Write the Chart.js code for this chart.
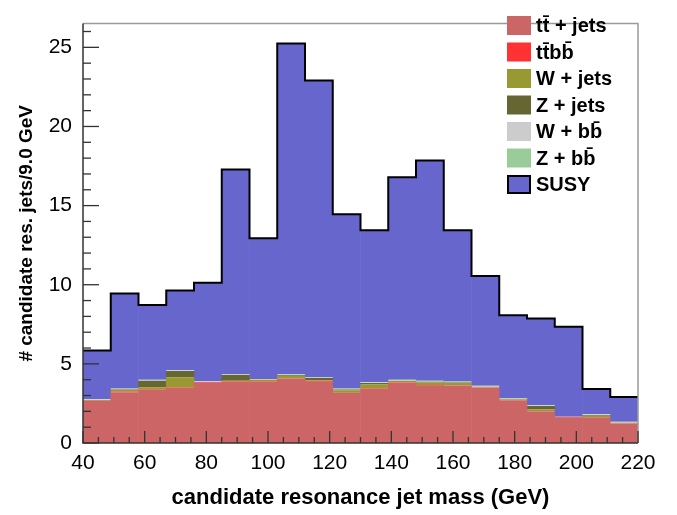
<!DOCTYPE html>
<html>
<head>
<meta charset="utf-8">
<script src="https://cdn.jsdelivr.net/npm/chart.js@4.4.1/dist/chart.umd.min.js"></script>
<style>
  html, body { margin: 0; padding: 0; background: #fff; }
  #caixa { width: 677px; height: 515px; }
</style>
</head>
<body>
<div id="caixa"><canvas id="histograma" width="677" height="515"></canvas></div>
<script>
// centros dos bins (9 GeV cada, de 40 a 220 GeV)
const centrosBins = [44.5, 53.5, 62.5, 71.5, 80.5, 89.5, 98.5, 107.5, 116.5, 125.5,
                     134.5, 143.5, 152.5, 161.5, 170.5, 179.5, 188.5, 197.5, 206.5, 215.5];
const bordasBins = [40, 49, 58, 67, 76, 85, 94, 103, 112, 121, 130,
                    139, 148, 157, 166, 175, 184, 193, 202, 211, 220];
const ticksY = [0, 5, 10, 15, 20, 25];

// valores (empilhados de baixo para cima)
const ttJets = [2.65, 3.20, 3.35, 3.47, 3.81, 3.86, 3.86, 4.06, 3.86, 3.16,
                3.41, 3.81, 3.61, 3.61, 3.51, 2.70, 1.99, 1.58, 1.62, 1.22];
const ttbb   = [0.02, 0.05, 0.03, 0.03, 0.05, 0.03, 0.03, 0.02, 0.04, 0.02,
                0.03, 0.03, 0.06, 0.03, 0.02, 0.02, 0.03, 0.04, 0.02, 0.02];
const wJets  = [0.05, 0.10, 0.15, 0.65, 0.00, 0.05, 0.10, 0.15, 0.05, 0.15,
                0.25, 0.10, 0.15, 0.15, 0.02, 0.05, 0.10, 0.00, 0.08, 0.04];
const zJets  = [0.00, 0.03, 0.40, 0.40, 0.00, 0.35, 0.00, 0.05, 0.15, 0.05,
                0.10, 0.00, 0.05, 0.03, 0.00, 0.00, 0.22, 0.00, 0.05, 0.00];
const wbb    = [0.03, 0.03, 0.03, 0.03, 0.02, 0.03, 0.03, 0.03, 0.03, 0.03,
                0.03, 0.03, 0.03, 0.03, 0.03, 0.03, 0.03, 0.02, 0.03, 0.03];
const zbb    = [0.03, 0.03, 0.03, 0.03, 0.02, 0.03, 0.03, 0.03, 0.03, 0.03,
                0.03, 0.03, 0.03, 0.03, 0.03, 0.03, 0.03, 0.02, 0.03, 0.03];
const susy   = [3.06, 6.01, 4.73, 5.02, 6.22, 12.93, 8.89, 20.90, 18.75, 11.02,
                9.59, 12.79, 13.92, 9.56, 6.94, 5.24, 5.47, 5.68, 1.58, 1.56];

const rotulos = ['tt\u0304 + jets', 'tt\u0304bb\u0304', 'W + jets', 'Z + jets', 'W + bb\u0304', 'Z + bb\u0304', 'SUSY'];
const cores = ['#cc6666', '#ff3333', '#999933', '#666633', '#cccccc', '#99cc99', '#6666cc'];
const series = [ttJets, ttbb, wJets, zJets, wbb, zbb, susy];

const FONTE = '"Liberation Sans", Arial, Helvetica, sans-serif';

// monta os datasets de barras empilhadas
const datasetsBarras = series.map((valores, i) => ({
    type: 'bar',
    label: rotulos[i],
    data: valores.map((v, j) => ({ x: centrosBins[j], y: v })),
    backgroundColor: cores[i],
    borderWidth: 0,
    barPercentage: 1.02,
    categoryPercentage: 1,
    stack: 'pilha'
}));

// contorno preto do total (histograma em degraus)
const totais = centrosBins.map((c, j) => series.reduce((s, arr) => s + arr[j], 0));
const pontosContorno = bordasBins.map((b, j) => ({ x: b, y: totais[Math.min(j, totais.length - 1)] }));

const contorno = {
    type: 'line',
    label: 'contorno',
    data: pontosContorno,
    borderColor: '#000',
    borderWidth: 2,
    pointRadius: 0,
    fill: false,
    stepped: 'before',
    stack: 'contorno',
    order: -1
};

// moldura e marcas dos eixos (estilo ROOT, para dentro)
const molduraPlugin = {
    id: 'moldura',
    afterDatasetsDraw(chart) {
        const { ctx, chartArea: a, scales } = chart;
        const sx = scales.x, sy = scales.y;
        ctx.save();
        ctx.strokeStyle = '#9a9a9a';
        ctx.lineWidth = 1.5;
        ctx.beginPath();
        ctx.moveTo(a.left, a.top); ctx.lineTo(a.right, a.top); ctx.lineTo(a.right, a.bottom);
        ctx.stroke();
        ctx.strokeStyle = '#333';
        ctx.beginPath();
        ctx.moveTo(a.left, a.top); ctx.lineTo(a.left, a.bottom); ctx.lineTo(a.right, a.bottom);
        ctx.stroke();

        ctx.lineWidth = 1.3;
        ctx.strokeStyle = '#333';
        for (let v = 0; v <= 26; v++) {
            const py = sy.getPixelForValue(v);
            const len = v % 5 === 0 ? 16 : 8;
            ctx.beginPath();
            ctx.moveTo(a.left, py); ctx.lineTo(a.left + len, py);
            ctx.stroke();
        }
        for (let v = 40; v <= 220; v += 5) {
            const px = sx.getPixelForValue(v);
            const len = v % 20 === 0 ? 12 : 6;
            ctx.beginPath();
            ctx.moveTo(px, a.bottom); ctx.lineTo(px, a.bottom - len);
            ctx.stroke();
        }
        ctx.restore();
    }
};

// legenda desenhada dentro da área do gráfico
const legendaPlugin = {
    id: 'legendaInterna',
    afterDraw(chart) {
        const ctx = chart.ctx;
        const x0 = 507, y0 = 16, passo = 26.5, w = 24, h = 19;
        ctx.save();
        ctx.font = 'bold 20px ' + FONTE;
        ctx.textBaseline = 'middle';
        ctx.textAlign = 'left';
        rotulos.forEach((r, i) => {
            const y = y0 + i * passo;
            ctx.fillStyle = cores[i];
            ctx.fillRect(x0, y, w, h);
            if (r === 'SUSY') {
                ctx.strokeStyle = '#000';
                ctx.lineWidth = 2;
                ctx.strokeRect(x0 + 1, y + 1, w - 2, h - 2);
            }
            ctx.fillStyle = '#000';
            ctx.fillText(r, x0 + 29, y + h / 2 + 1);
        });
        ctx.restore();
    }
};

new Chart(document.getElementById('histograma'), {
    data: { datasets: [...datasetsBarras, contorno] },
    options: {
        responsive: false,
        animation: false,
        layout: { padding: { top: 7, right: 39, left: 0, bottom: 0 } },
        plugins: { legend: { display: false }, tooltip: { enabled: false } },
        scales: {
            x: {
                type: 'linear',
                min: 40, max: 220,
                offset: false,
                stacked: true,
                grid: { display: false, drawTicks: false },
                border: { display: false },
                ticks: { stepSize: 20, color: '#000', padding: 8, font: { family: FONTE, size: 21 } },
                title: {
                    display: true,
                    text: 'candidate resonance jet mass (GeV)',
                    color: '#000',
                    font: { family: FONTE, size: 22, weight: 'bold' },
                    padding: { top: 0, bottom: 4 }
                },
                afterFit: (s) => { s.height = 72; }
            },
            y: {
                min: 0, max: 26.5,
                stacked: true,
                grid: { display: false, drawTicks: false },
                border: { display: false },
                ticks: { color: '#000', padding: 11, font: { family: FONTE, size: 21 } },
                afterBuildTicks: (s) => { s.ticks = ticksY.map(v => ({ value: v })); },
                title: {
                    display: true,
                    text: '# candidate res. jets/9.0 GeV',
                    color: '#000',
                    font: { family: FONTE, size: 19, weight: 'bold' },
                    padding: { top: 15, bottom: 0 }
                },
                afterFit: (s) => { s.width = 83; }
            }
        }
    },
    plugins: [molduraPlugin, legendaPlugin]
});
</script>
</body>
</html>
